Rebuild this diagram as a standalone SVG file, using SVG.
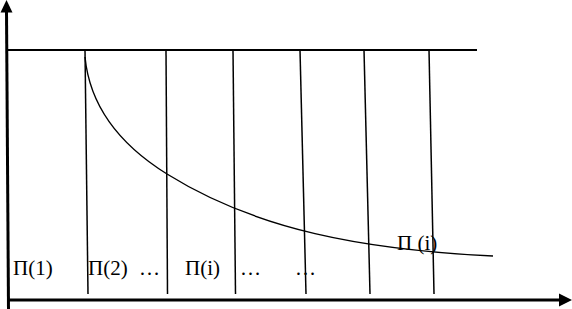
<svg xmlns="http://www.w3.org/2000/svg" width="572" height="309" viewBox="0 0 572 309">
<style>
.ax{stroke:#000;stroke-width:3;fill:none}
.top{stroke:#000;stroke-width:2;fill:none}
.v{stroke:#000;stroke-width:1.5;fill:none}
.crv{stroke:#000;stroke-width:1.4;fill:none}
.lbl{font-family:"Liberation Serif","Times New Roman",serif;font-size:21px;fill:#000}
</style>
<rect width="572" height="309" fill="#fff"/>
<g id="axes">
<line class="ax" x1="6.5" y1="11" x2="8.5" y2="309"/>
<polygon points="6.5,0 0.5,12.5 12.5,12.5" fill="#000"/>
<line class="ax" x1="8" y1="300" x2="561" y2="300"/>
<polygon points="572,300 559,293.5 559,306.5" fill="#000"/>
</g>
<g id="connectors">
<line class="top" x1="8" y1="50" x2="477" y2="50"/>
<line class="v" x1="85" y1="50" x2="88" y2="294"/>
<line class="v" x1="166" y1="50" x2="167.5" y2="294"/>
<line class="v" x1="233" y1="50" x2="235.5" y2="294"/>
<line class="v" x1="300" y1="50" x2="306" y2="294"/>
<line class="v" x1="364" y1="50" x2="370" y2="294"/>
<line class="v" x1="429" y1="50" x2="434" y2="294"/>
<path class="crv" d="M85,57 C90,108 122,146 167,174 C257,230 363,249.5 493,256"/>
</g>
<g id="labels">
<text class="lbl" x="13" y="275">П(1)</text>
<text class="lbl" x="88" y="275">П(2)</text>
<text class="lbl" x="139" y="275">…</text>
<text class="lbl" x="185" y="275">П(i)</text>
<text class="lbl" x="240" y="275">…</text>
<text class="lbl" x="295" y="275">…</text>
<text class="lbl" x="397" y="250">П (i)</text>
</g>
</svg>
